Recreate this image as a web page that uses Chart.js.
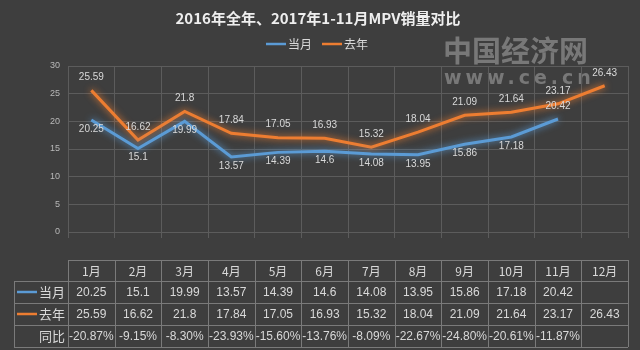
<!DOCTYPE html>
<html>
<head>
<meta charset="utf-8">
<script src="https://cdn.jsdelivr.net/npm/chart.js@4/dist/chart.umd.min.js"></script>
<style>
    body { margin: 0; background: #3e3e3e; }
    #wrap { width: 640px; height: 350px; }
</style>
</head>
<body>
<div id="wrap"><canvas id="salesChart" width="640" height="350"></canvas></div>
<script>
const months = ["1月", "2月", "3月", "4月", "5月", "6月", "7月", "8月", "9月", "10月", "11月", "12月"]
const thisYear = [20.25, 15.1, 19.99, 13.57, 14.39, 14.6, 14.08, 13.95, 15.86, 17.18, 20.42, null]
const lastYear = [25.59, 16.62, 21.8, 17.84, 17.05, 16.93, 15.32, 18.04, 21.09, 21.64, 23.17, 26.43]
const yoyChange = [-20.87, -9.15, -8.30, -23.93, -15.60, -13.76, -8.09, -22.67, -24.80, -20.61, -11.87, null]
const seriesNames = ["当月", "去年"]
const titleText = "2016年全年、2017年1-11月MPV销量对比"

const blue = "#5b9bd5"
const orange = "#ed7d31"
const textColor = "#d9d9d9"
const gridColor = "#5c5c5c"
const tableLine = "#7a7a7a"

function formatValue(v) {
    return v === null ? "" : String(v)
}

function formatPercent(v) {
    return v === null ? "" : v.toFixed(2) + "%"
}

// soft glow under each line, like the excel effect
const glowPlugin = {
    id: "glow",
    beforeDatasetDraw(chart, args) {
        const ds = chart.data.datasets[args.index]
        chart.ctx.save()
        chart.ctx.shadowColor = ds.borderColor
        chart.ctx.shadowBlur = 7
    },
    afterDatasetDraw(chart) {
        chart.ctx.restore()
    }
}

const headerPlugin = {
    id: "header",
    beforeDraw(chart) {
        const ctx = chart.ctx
        ctx.save()
        ctx.fillStyle = "#3e3e3e"
        ctx.fillRect(0, 0, chart.width, chart.height)

        ctx.fillStyle = "#eeeeee"
        ctx.font = "bold 15px 'Noto Sans CJK SC'"
        ctx.textAlign = "center"
        ctx.textBaseline = "middle"
        ctx.fillText(titleText, 318, 18)

        // legend
        ctx.font = "12px 'Noto Sans CJK SC'"
        ctx.textAlign = "left"
        const items = [[seriesNames[0], blue, 266], [seriesNames[1], orange, 322]]
        items.forEach(([name, color, x]) => {
            ctx.strokeStyle = color
            ctx.lineWidth = 2.5
            ctx.beginPath()
            ctx.moveTo(x, 44)
            ctx.lineTo(x + 20, 44)
            ctx.stroke()
            ctx.fillStyle = textColor
            ctx.fillText(name, x + 22, 44)
        })

        // watermark
        ctx.fillStyle = "rgba(160,160,160,0.6)"
        ctx.font = "bold 29px 'Noto Sans CJK SC'"
        ctx.fillText("中国经济网", 443, 51)
        ctx.font = "bold 19px 'DejaVu Sans'"
        ctx.letterSpacing = "4px"
        ctx.fillText("www.ce.cn", 444, 79)
        ctx.restore()
    }
}

const labelsAndTable = {
    id: "labelsAndTable",
    afterDatasetsDraw(chart) {
        const ctx = chart.ctx
        ctx.save()
        ctx.font = "10px 'Liberation Sans'"
        ctx.fillStyle = textColor
        ctx.textAlign = "center"
        ctx.textBaseline = "middle"
        chart.data.datasets.forEach((ds, di) => {
            const meta = chart.getDatasetMeta(di)
            meta.data.forEach((pt, i) => {
                if (ds.data[i] === null) return
                let dy = di === 0 ? 9 : -13
                if (di === 0 && i === months.length - 2) dy = -13
                ctx.fillText(formatValue(ds.data[i]), pt.x, pt.y + dy)
            })
        })
        ctx.restore()
    },
    afterDraw(chart) {
        const ctx = chart.ctx
        const x = chart.scales.x
        const half = (x.getPixelForValue(1) - x.getPixelForValue(0)) / 2
        const left = x.getPixelForValue(0) - half
        const right = x.getPixelForValue(months.length - 1) + half
        const labelLeft = 14
        const rowsY = [260, 281, 303, 325, 347]

        ctx.save()
        ctx.strokeStyle = tableLine
        ctx.lineWidth = 1
        ctx.beginPath()
        // horizontal lines
        ctx.moveTo(left, rowsY[0] + 0.5)
        ctx.lineTo(right, rowsY[0] + 0.5)
        for (let r = 1; r < rowsY.length; r++) {
            ctx.moveTo(labelLeft, rowsY[r] + 0.5)
            ctx.lineTo(right, rowsY[r] + 0.5)
        }
        // vertical lines
        ctx.moveTo(labelLeft + 0.5, rowsY[1])
        ctx.lineTo(labelLeft + 0.5, rowsY[4])
        for (let i = 0; i <= months.length; i++) {
            const cx = Math.round(left + i * half * 2) + 0.5
            ctx.moveTo(cx, rowsY[0])
            ctx.lineTo(cx, rowsY[4])
        }
        ctx.stroke()

        ctx.fillStyle = textColor
        ctx.textAlign = "center"
        ctx.textBaseline = "middle"
        const rows = [
            months,
            thisYear.map(formatValue),
            lastYear.map(formatValue),
            yoyChange.map(formatPercent)
        ]
        rows.forEach((row, r) => {
            const cy = (rowsY[r] + rowsY[r + 1]) / 2 + 1
            ctx.font = r === 0 ? "12px 'Noto Sans CJK SC'" : "12px 'Liberation Sans'"
            row.forEach((text, i) => {
                ctx.fillText(text, x.getPixelForValue(i), cy)
            })
        })

        // row labels with legend keys
        ctx.font = "13px 'Noto Sans CJK SC'"
        ctx.textAlign = "right"
        const rowLabels = [[seriesNames[0], blue], [seriesNames[1], orange], ["同比", null]]
        rowLabels.forEach(([name, color], k) => {
            const cy = (rowsY[k + 1] + rowsY[k + 2]) / 2
            if (color) {
                ctx.strokeStyle = color
                ctx.lineWidth = 2.5
                ctx.beginPath()
                ctx.moveTo(17, cy)
                ctx.lineTo(37, cy)
                ctx.stroke()
            }
            ctx.fillStyle = textColor
            ctx.fillText(name, left - 3, cy)
        })
        ctx.restore()
    }
}

new Chart(document.getElementById("salesChart"), {
    type: "line",
    data: {
        labels: months,
        datasets: [
            {
                label: seriesNames[0],
                data: thisYear,
                borderColor: blue,
                borderWidth: 3,
                pointRadius: 0,
                tension: 0,
                spanGaps: false
            },
            {
                label: seriesNames[1],
                data: lastYear,
                borderColor: orange,
                borderWidth: 3,
                pointRadius: 0,
                tension: 0
            }
        ]
    },
    options: {
        responsive: false,
        animation: false,
        layout: {
            padding: { left: 0, right: 12, top: 66, bottom: 118 }
        },
        plugins: {
            legend: { display: false },
            title: { display: false },
            tooltip: { enabled: false }
        },
        scales: {
            x: {
                offset: true,
                grid: { offset: true, color: gridColor, drawTicks: true, tickLength: 6, tickColor: gridColor },
                border: { display: false },
                ticks: { display: false },
                afterFit(axis) { axis.height = 0 }
            },
            y: {
                min: 0,
                max: 30,
                ticks: {
                    stepSize: 5,
                    color: "#b8b8b8",
                    font: { size: 9, family: "Liberation Sans" },
                    padding: 8
                },
                grid: { color: gridColor, drawTicks: false },
                border: { display: false },
                afterFit(axis) { axis.width = 68 }
            }
        }
    },
    plugins: [headerPlugin, glowPlugin, labelsAndTable]
})
</script>
</body>
</html>
